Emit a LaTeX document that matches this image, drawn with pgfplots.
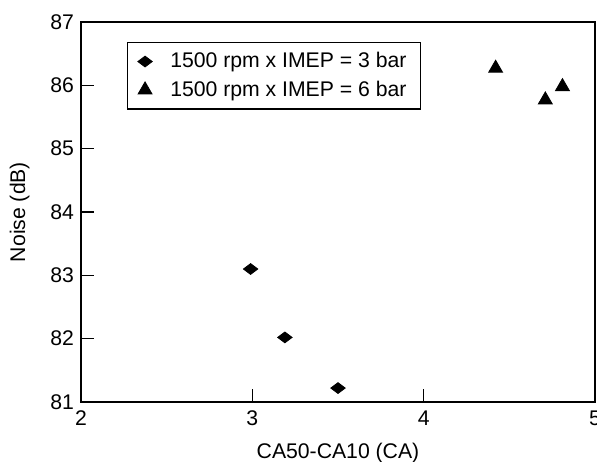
\documentclass[border=0pt]{standalone}
\usepackage{fontspec}
\setmainfont{Liberation Sans}
\usepackage{pgfplots}
\pgfplotsset{compat=1.18}
\usetikzlibrary{calc}
\begin{document}
\begin{tikzpicture}
\begin{axis}[
  name=ax,
  scale only axis,
  width=257pt, height=190pt,
  xmin=2, xmax=5, ymin=81, ymax=87,
  xtick={2,3,4,5}, ytick={81,82,83,84,85,86,87},
  axis line style={line width=0.6pt},
  tick style={line width=0.6pt, black},
  tick align=inside,
  xtick pos=bottom, ytick pos=left,
  major tick length=6.5pt,
  xticklabel style={yshift=-1pt},
  /pgf/number format/assume math mode=true,
  font=\fontsize{10.6}{12.5}\selectfont,
  tick label style={font=\fontsize{10.6}{12.5}\selectfont},
  xlabel={CA50-CA10 (CA)},
  ylabel={Noise (dB)},
  xlabel style={yshift=-1.5pt},
  ylabel style={yshift=3.5pt},
  legend style={at={(0.09,0.948)}, anchor=north west, draw=black, line width=0.6pt,
    font=\fontsize{10.6}{12.5}\selectfont, inner xsep=5pt, inner ysep=3pt, row sep=1pt,
    column sep=7pt, legend cell align=left},
  legend image post style={line width=0.4pt},
]
\addplot[only marks, mark=diamond*, mark size=3.6pt, mark options={rotate=90, fill=black, draw=black}]
  coordinates {(2.99,83.10) (3.19,82.02) (3.50,81.22)};
\addlegendentry{1500 rpm x IMEP = 3 bar}
\addplot[only marks, mark=triangle*, mark size=4pt, mark options={fill=black, draw=black}]
  coordinates {(4.42,86.27) (4.71,85.77) (4.81,85.98)};
\addlegendentry{1500 rpm x IMEP = 6 bar}
\end{axis}
\pgfresetboundingbox
\path[use as bounding box] ($(ax.south west)+(-40.5pt,-29.5pt)$) rectangle ($(ax.north east)+(1pt,11pt)$);
\end{tikzpicture}
\end{document}
